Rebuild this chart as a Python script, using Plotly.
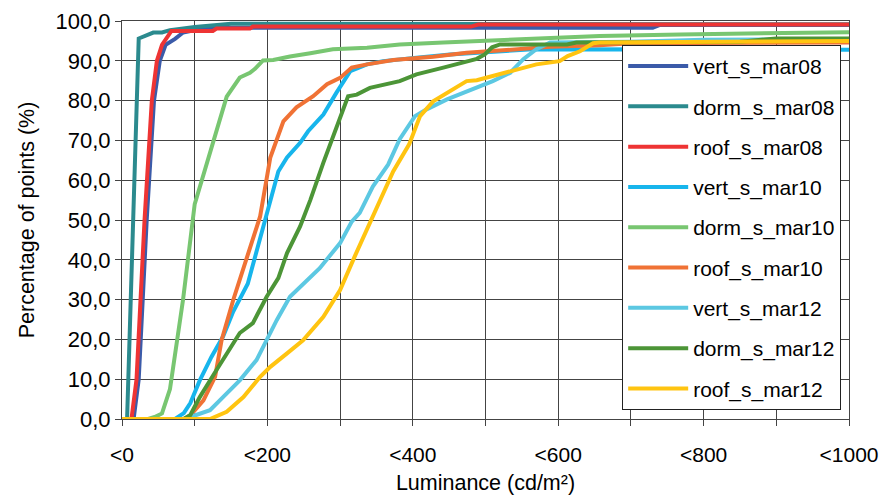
import plotly.graph_objects as go

# ---- data (luminance cd/m², cumulative % of points) ----
vert08_x = [0, 16, 23, 34, 44, 52, 60, 73, 84, 116, 730, 740, 1000]
vert08_y = [0, 0, 10, 50, 80, 90, 94, 95.5, 97.1, 98.3, 98.3, 99.0, 99.0]

dorm08_x = [0, 7, 23, 43, 55, 66, 100, 150, 1000]
dorm08_y = [0, 0, 95.6, 97.1, 97.1, 97.7, 98.5, 99.3, 99.2]

roof08_x = [0, 13, 20, 31, 41, 48, 55, 68, 125, 130, 176, 180, 480, 490, 1000]
roof08_y = [0, 0, 10, 50, 80, 90, 94, 97.5, 97.5, 98.1, 98.1, 98.6, 98.6, 99.1, 99.1]

vert10_x = [0, 73, 85, 94, 107, 123, 139, 153, 173, 183, 192, 201, 208, 215, 227, 245,
            256, 277, 295, 314, 337, 359, 405, 451, 565, 1000]
vert10_y = [0, 0, 1.5, 4, 9.7, 15.6, 20.7, 27, 34, 40.8, 46.8, 53.2, 58, 62.2, 65.7, 69.4,
            72.3, 76.5, 82, 87.4, 89.1, 89.9, 90.8, 91.6, 92.9, 92.8]

dorm10_x = [0, 36, 45, 55, 66, 84, 100, 123, 144, 162, 176, 183, 194, 208, 231, 259,
            290, 337, 382, 442, 502, 575, 657, 768, 946, 1000]
dorm10_y = [0, 0, 0.5, 1.4, 7.5, 30, 54, 67.7, 81, 85.8, 87, 88, 90.1, 90.2, 91.1, 91.9,
            92.9, 93.3, 94.1, 94.6, 95.1, 95.6, 96.2, 96.6, 97.2, 97.2]

roof10_x = [0, 85, 94, 112, 128, 137, 153, 171, 190, 204, 222, 240, 263, 282, 300, 316,
            337, 373, 428, 474, 543, 589, 657, 700, 1000]
roof10_y = [0, 0, 0.9, 4.7, 10.6, 19.8, 29.9, 40, 50.9, 65.7, 74.8, 78.3, 81.1, 84.1, 85.7, 88.3,
            89.1, 90.2, 91.0, 92.0, 92.9, 93.5, 93.9, 94.4, 94.6]

vert12_x = [0, 85, 94, 121, 139, 162, 185, 199, 213, 231, 254, 272, 300, 316, 327, 345,
            366, 375, 382, 403, 419, 447, 483, 510, 534, 552, 570, 589, 700, 800, 1000]
vert12_y = [0, 0, 0.5, 2.2, 5.5, 9.7, 14.8, 19.8, 24.9, 30.7, 34.9, 37.9, 44.2, 49.6, 51.8, 58.4,
            63.9, 67.7, 70.3, 76.1, 77.8, 80.3, 82.8, 84.9, 87, 90.4, 92.9, 94.6, 94.8, 95.3, 95.5]

dorm12_x = [0, 85, 94, 107, 130, 162, 180, 199, 215, 227, 245, 259, 277, 295, 311, 323,
            341, 382, 405, 442, 488, 499, 509, 520, 612, 625, 850, 900, 1000]
dorm12_y = [0, 0, 1, 5.5, 12.3, 21.6, 24.1, 30.7, 35.4, 41.7, 48.4, 55, 64.4, 73.5, 81.1, 81.5,
            83.2, 84.9, 86.6, 88.3, 90.5, 91.6, 93.4, 94.1, 94.1, 94.6, 94.8, 95.6, 95.6]

roof12_x = [0, 121, 144, 167, 190, 204, 227, 249, 277, 300, 320, 343, 359, 373, 395, 410,
            428, 451, 474, 488, 510, 538, 570, 602, 613, 630, 648, 657, 800, 1000]
roof12_y = [0, 0, 1.8, 5.5, 10.6, 13.1, 16.5, 19.8, 25.7, 32.4, 40.8, 50, 56.8, 62.2, 69, 76.1,
            79.8, 82.4, 84.9, 85.1, 86.2, 87.4, 89.1, 89.9, 91.2, 92.4, 94.4, 94.6, 94.8, 95.0]

series_names = ["vert_s_mar08", "dorm_s_mar08", "roof_s_mar08",
                "vert_s_mar10", "dorm_s_mar10", "roof_s_mar10",
                "vert_s_mar12", "dorm_s_mar12", "roof_s_mar12"]
series_x = [vert08_x, dorm08_x, roof08_x, vert10_x, dorm10_x, roof10_x, vert12_x, dorm12_x, roof12_x]
series_y = [vert08_y, dorm08_y, roof08_y, vert10_y, dorm10_y, roof10_y, vert12_y, dorm12_y, roof12_y]
colors = ["#3B5BA9", "#2B8A8E", "#EE3434", "#17B5EC", "#78C671",
          "#F07235", "#5CC8E2", "#4C9537", "#FFC410"]

x_tickvals = [0, 100, 200, 300, 400, 500, 600, 700, 800, 900, 1000]
x_ticktext = ["<0", "", "<200", "", "<400", "", "<600", "", "<800", "", "<1000"]
y_tickvals = [0, 10, 20, 30, 40, 50, 60, 70, 80, 90, 100]
y_ticktext = [f"{v:.1f}".replace(".", ",") for v in y_tickvals]

FONT = "Liberation Sans, Arial, sans-serif"

fig = go.Figure()
for i, (n, xs, ys, c) in enumerate(zip(series_names, series_x, series_y, colors)):
    fig.add_trace(go.Scatter(x=xs, y=ys, name=n, mode="lines",
                             line=dict(color=c, width=4),
                             legendgroup=f"g{i}"))

fig.update_layout(
    width=891, height=495,
    margin=dict(l=122, r=42, t=21, b=76),
    paper_bgcolor="white", plot_bgcolor="white",
    font=dict(family=FONT, size=21, color="#000"),
    showlegend=True,
    legend=dict(x=0.688, y=0.94, xanchor="left", yanchor="top",
                bgcolor="white", bordercolor="#222", borderwidth=1,
                font=dict(family=FONT, size=21, color="#000"),
                tracegroupgap=10, itemwidth=60),
    xaxis=dict(range=[0, 1000], tickvals=x_tickvals, ticktext=x_ticktext,
               tickfont=dict(family=FONT, size=21),
               showgrid=True, gridcolor="#444", gridwidth=1,
               showline=True, linecolor="#444", linewidth=1, mirror=True,
               ticks="outside", ticklen=6, tickcolor="#444",
               ticklabelstandoff=11, zeroline=False, automargin=False,
               title=dict(text="Luminance (cd/m²)",
                          font=dict(family=FONT, size=21.5))),
    yaxis=dict(range=[0, 100], tickvals=y_tickvals, ticktext=y_ticktext,
               tickfont=dict(family=FONT, size=22),
               showgrid=True, gridcolor="#444", gridwidth=1,
               showline=True, linecolor="#444", linewidth=1, mirror=True,
               ticks="outside", ticklen=6, tickcolor="#444", zeroline=False,
               automargin=False,
               title=dict(text="Percentage of points (%)",
                          font=dict(family=FONT, size=21.5))),
)

fig.write_html("out.html", config={"displayModeBar": False},
               post_script="document.body.style.margin='0';document.body.style.padding='0';")
